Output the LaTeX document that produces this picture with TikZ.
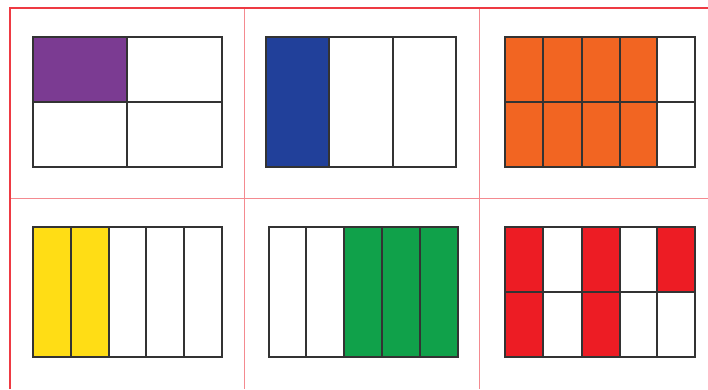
\documentclass[tikz,border=0pt]{standalone}
\definecolor{framered}{HTML}{EE3A43}
\definecolor{linepink}{HTML}{F48A90}
\definecolor{edgegray}{HTML}{333333}
\definecolor{fpurple}{HTML}{7B3B92}
\definecolor{fblue}{HTML}{21409A}
\definecolor{forange}{HTML}{F26522}
\definecolor{fyellow}{HTML}{FFDD15}
\definecolor{fgreen}{HTML}{10A14A}
\definecolor{fred}{HTML}{ED1C24}
\tikzset{
  cell/.style={draw=edgegray, line width=1.3pt},
  outerframe/.style={draw=framered, line width=2pt},
  innerline/.style={draw=linepink, line width=0.9pt}
}
\begin{document}
\begin{tikzpicture}[x=1pt,y=-1pt]
\useasboundingbox (0,0) rectangle (708,389);
% frame
\draw[innerline] (244,8) -- (244,389);
\draw[innerline] (479,8) -- (479,389);
\draw[innerline] (10,198) -- (708,198);
\draw[outerframe] (10,389) -- (10,8) -- (708,8);
% 1: quarters, top-left purple
\fill[fpurple] (33,37) rectangle (127,102);
\draw[cell] (33,37) rectangle (222,167);
\draw[cell] (127,37) -- (127,167);
\draw[cell] (33,102) -- (222,102);
% 2: thirds, first blue
\fill[fblue] (266,37) rectangle (329,167);
\draw[cell] (266,37) rectangle (456,167);
\draw[cell] (329,37) -- (329,167);
\draw[cell] (393,37) -- (393,167);
% 3: tenths, 8 orange
\fill[forange] (505,37) rectangle (657,167);
\draw[cell] (505,37) rectangle (695,167);
\foreach \x in {543,582,620,657} \draw[cell] (\x,37) -- (\x,167);
\draw[cell] (505,102) -- (695,102);
% 4: fifths, 2 yellow
\fill[fyellow] (33,227) rectangle (109,357);
\draw[cell] (33,227) rectangle (222,357);
\foreach \x in {71,109,146,184} \draw[cell] (\x,227) -- (\x,357);
% 5: fifths, last 3 green
\fill[fgreen] (344,227) rectangle (458,357);
\draw[cell] (269,227) rectangle (458,357);
\foreach \x in {306,344,382,420} \draw[cell] (\x,227) -- (\x,357);
% 6: tenths, 5 red
\fill[fred] (505,227) rectangle (543,357);
\fill[fred] (582,227) rectangle (620,357);
\fill[fred] (657,227) rectangle (695,292);
\draw[cell] (505,227) rectangle (695,357);
\foreach \x in {543,582,620,657} \draw[cell] (\x,227) -- (\x,357);
\draw[cell] (505,292) -- (695,292);
\end{tikzpicture}
\end{document}
